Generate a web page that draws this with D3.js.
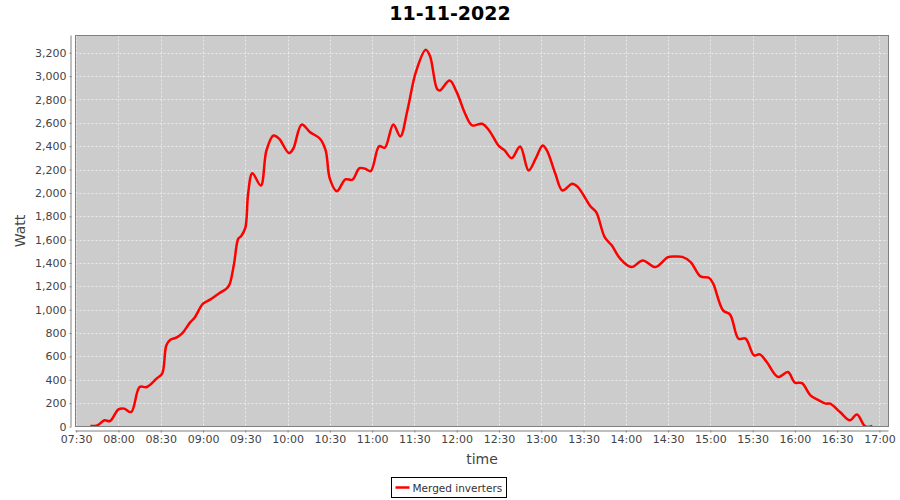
<!DOCTYPE html>
<html>
<head>
<meta charset="utf-8">
<script src="https://cdn.jsdelivr.net/npm/d3@7"></script>
<style>
  body { margin: 0; background: #fff; }
  svg { display: block; font-family: "DejaVu Sans", sans-serif; }
</style>
</head>
<body>
<svg width="900" height="500"></svg>
<script>
// readings, 11-11-2022
var times = ["07:40","07:45","07:50","07:54","08:00","08:04","08:09","08:15","08:20","08:27",
  "08:31","08:34","08:37","08:41","08:45","08:51","08:54","09:00","09:05","09:11",
  "09:17","09:19","09:22","09:25","09:27","09:30","09:32","09:35","09:41","09:45",
  "09:50","09:54","10:01","10:04","10:10","10:16","10:23","10:27","10:30","10:35",
  "10:41","10:46","10:51","10:55","10:59","11:05","11:09","11:15","11:20","11:25",
  "11:31","11:38","11:41","11:46","11:48","11:55","12:00","12:06","12:11","12:18",
  "12:23","12:30","12:34","12:39","12:45","12:51","12:56","13:01","13:04","13:10",
  "13:15","13:22","13:26","13:35","13:39","13:45","13:50","13:56","14:04","14:12",
  "14:21","14:30","14:35","14:40","14:46","14:53","14:59","15:02","15:09","15:14","15:20",
  "15:25","15:31","15:35","15:40","15:48","15:55","16:00","16:05","16:11","16:17",
  "16:22","16:25","16:32","16:39","16:44","16:50","16:55"];
var watts = [5,10,53,47,147,153,124,338,338,410,
  453,695,744,761,795,894,932,1052,1086,1137,
  1185,1223,1394,1608,1630,1700,1993,2169,2064,2364,
  2492,2464,2341,2378,2586,2520,2464,2364,2121,2015,
  2116,2113,2212,2207,2187,2400,2387,2586,2484,2706,
  3034,3226,3174,2892,2877,2963,2863,2678,2578,2592,
  2535,2400,2364,2298,2398,2193,2293,2407,2364,2164,
  2021,2079,2050,1884,1836,1622,1551,1437,1365,1422,
  1365,1450,1455,1452,1408,1285,1274,1223,994,958,752,
  752,609,618,552,424,466,376,372,267,224,
  196,196,124,53,102,0,5];
var yTicks = d3.range(0, 3201, 200);
var title = "11-11-2022", seriesName = "Merged inverters";

var svg = d3.select("svg");
var pLeft = 75.5, pRight = 888.5, pTop = 35.5, pBottom = 426.5;

var parse = d3.timeParse("%Y-%m-%d %H:%M");
var data = times.map(function(t, i) { return { t: parse("2022-11-11 " + t), v: watts[i] }; });

var x = d3.scaleTime()
    .domain([new Date(2022, 10, 11, 7, 29, 30), new Date(2022, 10, 11, 17, 6, 24)])
    .range([pLeft, pRight]);
var y = d3.scaleLinear().domain([0, 3348]).range([pBottom, pTop]);

// plot background
svg.append("rect").attr("x", pLeft).attr("y", pTop)
    .attr("width", pRight - pLeft).attr("height", pBottom - pTop)
    .attr("fill", "#cccccc");

var xTicks = x.ticks(d3.timeMinute.every(30));

// grid
svg.append("g").selectAll("line").data(xTicks).enter().append("line")
    .attr("x1", function(d) { return Math.round(x(d)) + 0.5; })
    .attr("x2", function(d) { return Math.round(x(d)) + 0.5; })
    .attr("y1", pTop).attr("y2", pBottom)
    .attr("stroke", "#fff").attr("stroke-width", 0.6).attr("stroke-dasharray", "2,2");
svg.append("g").selectAll("line").data(yTicks).enter().append("line")
    .attr("y1", function(d) { return Math.round(y(d)) + 0.5; })
    .attr("y2", function(d) { return Math.round(y(d)) + 0.5; })
    .attr("x1", pLeft).attr("x2", pRight)
    .attr("stroke", "#fff").attr("stroke-width", 0.6).attr("stroke-dasharray", "2,2");

svg.append("clipPath").attr("id", "clip").append("rect")
    .attr("x", pLeft).attr("y", pTop).attr("width", pRight - pLeft).attr("height", pBottom - pTop);

var line = d3.line()
    .x(function(d) { return x(d.t); })
    .y(function(d) { return y(d.v); })
    .curve(d3.curveCatmullRom.alpha(0.5));

svg.append("path").datum(data)
    .attr("clip-path", "url(#clip)")
    .attr("d", line)
    .attr("fill", "none").attr("stroke", "#ff0000").attr("stroke-width", 2.5)
    .attr("stroke-linejoin", "round");

// outline
svg.append("rect").attr("x", pLeft).attr("y", pTop)
    .attr("width", pRight - pLeft).attr("height", pBottom - pTop)
    .attr("fill", "none").attr("stroke", "#808080").attr("stroke-width", 1);

// axes, offset 4px from the plot
var xAxis = d3.axisBottom(x).tickValues(xTicks).tickFormat(d3.timeFormat("%H:%M"))
    .tickSizeInner(2).tickSizeOuter(0).tickPadding(3);
var gx = svg.append("g").attr("transform", "translate(0," + (pBottom + 4) + ")").call(xAxis);

var yAxis = d3.axisLeft(y).tickValues(yTicks).tickFormat(d3.format(","))
    .tickSizeInner(2).tickSizeOuter(0).tickPadding(3);
var gy = svg.append("g").attr("transform", "translate(" + (pLeft - 4) + ",0)").call(yAxis);

[gx, gy].forEach(function(g) {
  g.select(".domain").attr("stroke", "#808080");
  g.selectAll(".tick line").attr("stroke", "#808080");
  g.selectAll(".tick text").attr("fill", "#444").style("font-size", "11px")
      .style("font-family", "'DejaVu Sans', sans-serif");
});
gx.select(".domain").attr("d", "M" + pLeft + ",0.5H" + pRight);
gy.select(".domain").attr("d", "M-0.5," + pTop + "V" + pBottom);

// labels
svg.append("text").attr("x", 450).attr("y", 20).attr("text-anchor", "middle")
    .style("font-size", "19px").style("font-weight", "bold").attr("fill", "#000")
    .text(title);
svg.append("text").attr("x", (pLeft + pRight) / 2).attr("y", 464).attr("text-anchor", "middle")
    .style("font-size", "14px").attr("fill", "#444").text("time");
svg.append("text").attr("transform", "translate(25," + ((pTop + pBottom) / 2) + ") rotate(-90)")
    .attr("text-anchor", "middle").style("font-size", "14px").attr("fill", "#444").text("Watt");

// legend
var lg = svg.append("g").attr("transform", "translate(391.5,477.5)");
lg.append("rect").attr("width", 115).attr("height", 20)
    .attr("fill", "#fff").attr("stroke", "#000").attr("stroke-width", 1);
lg.append("line").attr("x1", 4).attr("x2", 18).attr("y1", 10).attr("y2", 10)
    .attr("stroke", "#ff0000").attr("stroke-width", 2.5);
lg.append("text").attr("x", 21).attr("y", 14).style("font-size", "10.5px")
    .attr("fill", "#333").text(seriesName);
</script>
</body>
</html>
